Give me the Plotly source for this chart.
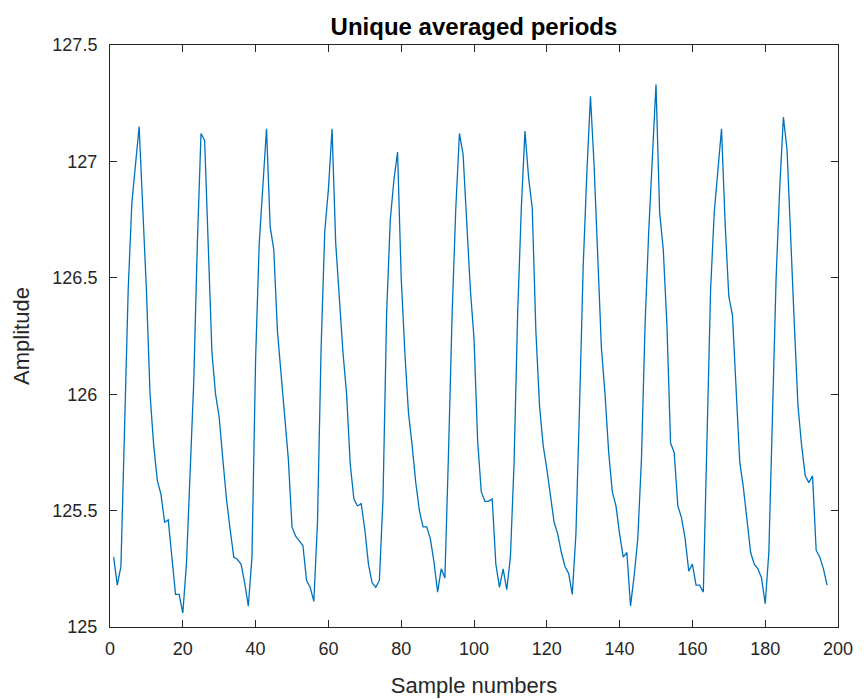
import plotly.graph_objects as go

sample_numbers = list(range(1, 198))
amplitude = [
    125.30, 125.18, 125.26, 125.85, 126.45, 126.82, 127.00, 127.15, 126.80, 126.45,
    126.00, 125.78, 125.63, 125.57, 125.45, 125.46, 125.30, 125.14, 125.14, 125.06,
    125.27, 125.65, 126.05, 126.65, 127.12, 127.09, 126.60, 126.18, 126.00, 125.90,
    125.72, 125.55, 125.42, 125.30, 125.29, 125.27, 125.19, 125.09, 125.30, 126.15,
    126.65, 126.90, 127.14, 126.72, 126.62, 126.27, 126.08, 125.90, 125.72, 125.43,
    125.39, 125.37, 125.35, 125.20, 125.17, 125.11, 125.45, 126.20, 126.70, 126.88,
    127.14, 126.65, 126.40, 126.18, 126.00, 125.70, 125.55, 125.52, 125.53, 125.42,
    125.27, 125.19, 125.17, 125.20, 125.55, 126.35, 126.75, 126.92, 127.04, 126.50,
    126.18, 125.92, 125.78, 125.62, 125.50, 125.43, 125.43, 125.38, 125.28, 125.15,
    125.25, 125.21, 125.75, 126.35, 126.80, 127.12, 127.03, 126.72, 126.45, 126.24,
    125.80, 125.58, 125.54, 125.54, 125.55, 125.27, 125.17, 125.25, 125.16, 125.30,
    125.70, 126.35, 126.80, 127.13, 126.93, 126.80, 126.27, 125.95, 125.78, 125.68,
    125.57, 125.45, 125.40, 125.32, 125.26, 125.23, 125.14, 125.40, 125.95, 126.55,
    126.95, 127.28, 126.98, 126.60, 126.20, 126.00, 125.75, 125.58, 125.52, 125.40,
    125.30, 125.32, 125.09, 125.22, 125.38, 125.72, 126.30, 126.70, 127.00, 127.33,
    126.78, 126.62, 126.30, 125.79, 125.75, 125.52, 125.47, 125.38, 125.24, 125.27,
    125.18, 125.18, 125.15, 125.85, 126.45, 126.78, 126.95, 127.14, 126.73, 126.42,
    126.34, 126.03, 125.71, 125.60, 125.45, 125.32, 125.27, 125.25, 125.21, 125.10,
    125.32, 125.87, 126.50, 126.89, 127.19, 127.05, 126.65, 126.30, 125.95, 125.78,
    125.65, 125.62, 125.65, 125.33, 125.30, 125.25, 125.18,
]
x_ticks = [0, 20, 40, 60, 80, 100, 120, 140, 160, 180, 200]
y_ticks = [125, 125.5, 126, 126.5, 127, 127.5]
y_tick_text = ["125", "125.5", "126", "126.5", "127", "127.5"]

FONT = "Liberation Sans, Arial, sans-serif"
AX = "#262626"

fig = go.Figure()
fig.add_trace(go.Scatter(
    x=sample_numbers, y=amplitude, mode="lines",
    line=dict(color="#0072BD", width=1.3), showlegend=False,
))

common = dict(
    showgrid=False, zeroline=False, showline=True, linecolor=AX, linewidth=1,
    mirror="allticks", ticks="inside", ticklen=7, tickcolor=AX, tickwidth=1,
    tickfont=dict(family=FONT, size=18, color=AX),
)
fig.update_xaxes(
    range=[0, 200], tickmode="array", tickvals=x_ticks,
    ticklabelstandoff=5,
    title=dict(text="Sample numbers", font=dict(family=FONT, size=22, color=AX), standoff=20),
    **common,
)
fig.update_yaxes(
    range=[125, 127.5], tickmode="array", tickvals=y_ticks, ticktext=y_tick_text,
    ticklabelstandoff=8,
    title=dict(text="Amplitude", font=dict(family=FONT, size=22, color=AX), standoff=16),
    **common,
)
fig.update_layout(
    width=864, height=700,
    margin=dict(l=110, r=26, t=45, b=73, autoexpand=False),
    paper_bgcolor="white", plot_bgcolor="white",
    title=dict(text="<b>Unique averaged periods</b>", x=0.5486, xanchor="center",
               y=1 - 27 / 700, yanchor="middle", yref="container",
               font=dict(family=FONT, size=24, color="#000000")),
)
fig.write_html("out.html")
